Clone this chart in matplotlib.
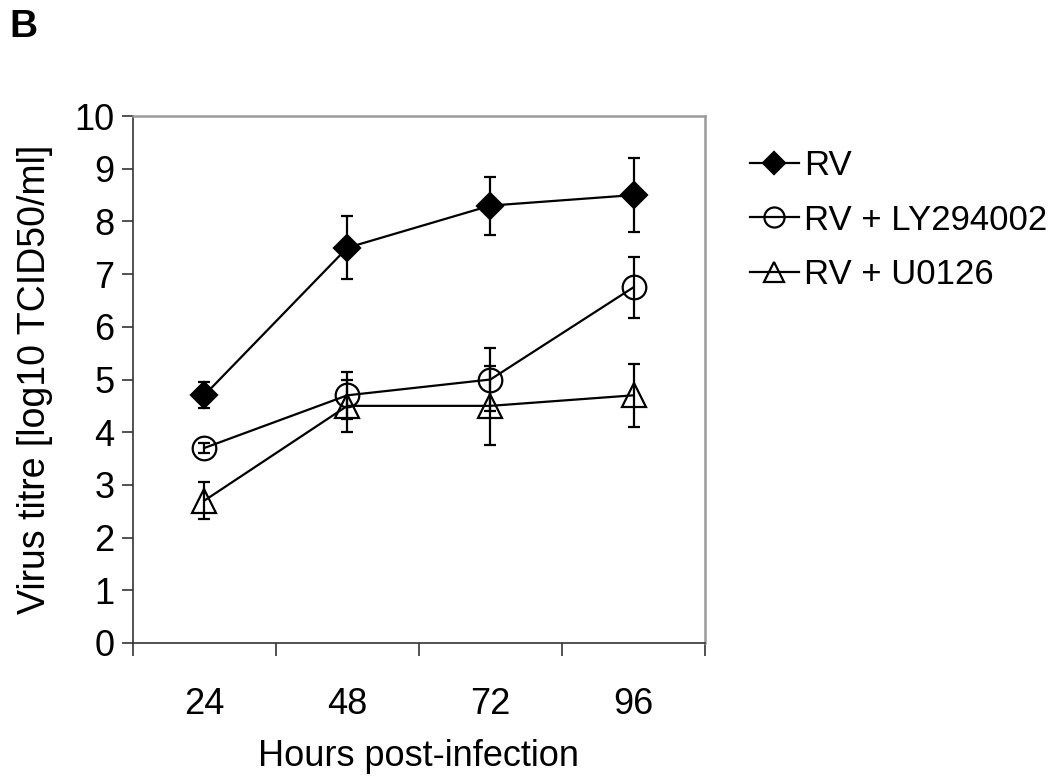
import numpy as np
import matplotlib
matplotlib.use("Agg")
import matplotlib.pyplot as plt

# Data
hours = ["24", "48", "72", "96"]
rv = [4.7, 7.5, 8.3, 8.5]
rv_err = [0.25, 0.6, 0.55, 0.7]
ly = [3.7, 4.7, 5.0, 6.75]
ly_err = [0.1, 0.45, 0.6, 0.58]
u0126 = [2.7, 4.5, 4.5, 4.7]
u0126_err = [0.35, 0.5, 0.75, 0.6]
labels = ["RV", "RV + LY294002", "RV + U0126"]

plt.rcParams['font.family'] = ['Liberation Sans', 'DejaVu Sans']
text_size = 26

fig = plt.figure(figsize=(10.58, 7.76), dpi=100)
ax = fig.add_axes([0.1254, 0.1714, 0.5410, 0.6791])

x = np.arange(len(hours))
series = [
    (rv, rv_err, 'D', 'black', 13),
    (ly, ly_err, 'o', 'none', 17),
    (u0126, u0126_err, '^', 'none', 17),
]
handles = []
for (vals, errs, marker, face, ms), label in zip(series, labels):
    ax.errorbar(x, vals, yerr=errs, fmt='none', ecolor='black',
                elinewidth=1.6, capsize=4, capthick=1.6, zorder=2)
    line, = ax.plot(x, vals, color='black', linewidth=1.6, marker=marker,
                    markersize=ms, markerfacecolor=face,
                    markeredgecolor='black', markeredgewidth=1.6,
                    label=label, zorder=3)
    handles.append(line)

ax.set_xlim(-0.5, 3.5)
ax.set_ylim(0, 10)
ax.set_yticks(range(0, 11))
ax.set_xticks(x)
ax.set_xticklabels(hours)
ax.set_xticks(np.arange(-0.5, 4.0, 1.0), minor=True)
ax.tick_params(axis='x', which='major', length=0, pad=32, labelsize=text_size)
ax.tick_params(axis='x', which='minor', length=9, width=1.2, direction='out',
               color='#333333')
ax.tick_params(axis='y', length=8, width=1.2, direction='out', pad=5,
               labelsize=text_size, color='#333333')

for side in ['top', 'right']:
    ax.spines[side].set_color('#9a9a9a')
    ax.spines[side].set_linewidth(1.8)
for side in ['left', 'bottom']:
    ax.spines[side].set_color('#333333')
    ax.spines[side].set_linewidth(1.2)

ax.set_xlabel("Hours post-infection", fontsize=text_size, labelpad=12)
ax.set_ylabel("Virus titre [log10 TCID50/ml]", fontsize=27)
ax.yaxis.set_label_coords(-0.14, 0.5)

fig.legend(handles=handles, labels=labels, loc='upper left',
           bbox_to_anchor=(0.709, 0.808), frameon=False, fontsize=25,
           handlelength=1.4, handletextpad=0.15, labelspacing=0.62,
           borderpad=0, borderaxespad=0, markerscale=0.85)

fig.text(0.009, 0.965, "B", fontsize=28, fontweight='bold', va='center')

fig.savefig("out.png", dpi=100)
